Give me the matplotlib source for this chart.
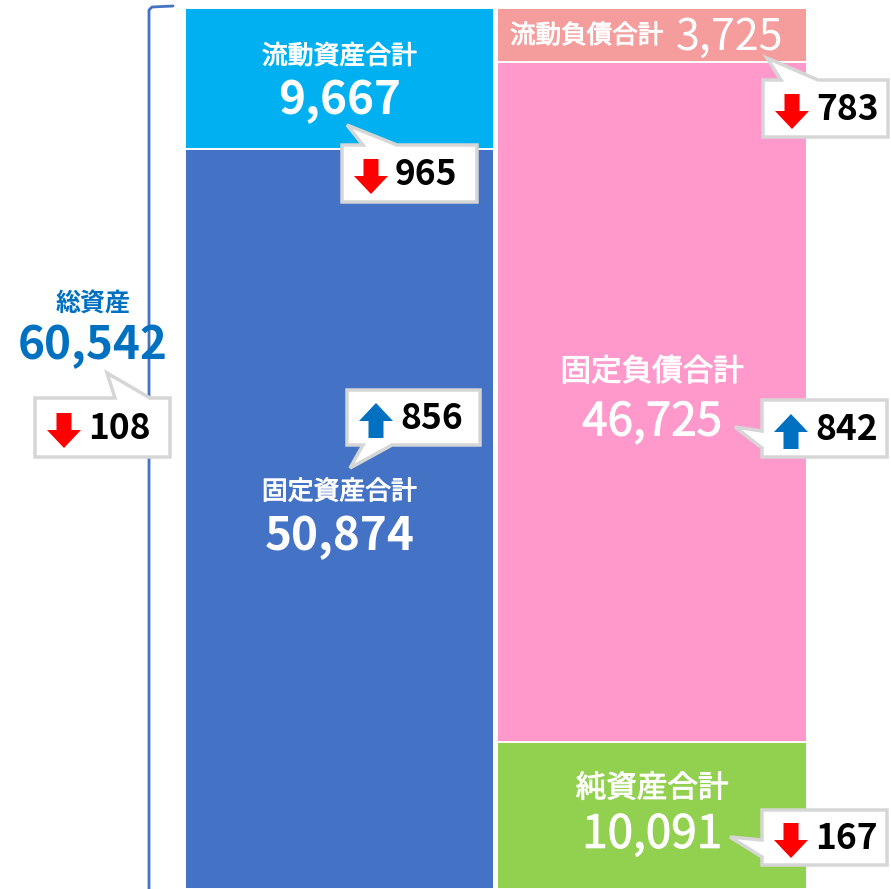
import matplotlib
matplotlib.use("Agg")
import matplotlib.pyplot as plt
import matplotlib.patheffects as pe
from matplotlib.patches import Polygon

plt.rcParams["font.family"] = ["Noto Sans CJK JP", "DejaVu Sans"]

W, H = 891, 889

# balance sheet (stacked from the bottom)
asset_labels = ["固定資産合計", "流動資産合計"]
asset_values = [50874, 9667]
liab_labels = ["純資産合計", "固定負債合計", "流動負債合計"]
liab_values = [10091, 46725, 3725]
total_label = "総資産"
total_value = 60542

# change vs previous period, one per callout
change_names = ["総資産", "流動資産合計", "固定資産合計", "流動負債合計", "固定負債合計", "純資産合計"]
change_values = [-108, -965, 856, -783, 842, -167]

# colours
C_CUR_ASSET = "#00B0F0"
C_FIX_ASSET = "#4472C4"
C_CUR_LIAB = "#F59D9D"
C_FIX_LIAB = "#FF99CC"
C_EQUITY = "#92D050"
C_TOTAL = "#0070C0"
C_UP = "#0070C0"
C_DOWN = "#FF0000"
C_BOX = "#D6D6D6"

# fake a medium weight with a thin stroke in the text colour
MEDIUM = [pe.withStroke(linewidth=0.7, foreground="white")]

fig = plt.figure(figsize=(W / 100, H / 100), dpi=100)
fig.patch.set_facecolor("white")

# --- bars (data axes) ---
ax = fig.add_axes([0, 0, 1, 1])
unit = 312.5          # px per category step
left_c = 339.5        # px of first bar centre
ax.set_xlim(-left_c / unit, (W - left_c) / unit)
ax.set_ylim(0, total_value * H / 881)
ax.axis("off")

asset_colors = [C_FIX_ASSET, C_CUR_ASSET]
liab_colors = [C_EQUITY, C_FIX_LIAB, C_CUR_LIAB]


def stack(xpos, values, colors):
    bottom = 0
    spans = []
    for v, c in zip(values, colors):
        ax.bar(xpos, v, bottom=bottom, width=0.99, color=c,
               edgecolor="white", linewidth=1.4, zorder=2)
        spans.append((bottom, v))
        bottom += v
    return spans


a_spans = stack(0, asset_values, asset_colors)
l_spans = stack(1, liab_values, liab_colors)


def seg_label(xpos, span, name, value, name_size, num_weight, name_dy, num_dy):
    mid = span[0] + span[1] / 2
    ax.annotate(name, (xpos, mid), xytext=(0, -name_dy), textcoords="offset pixels",
                ha="center", va="center", color="white", fontsize=name_size,
                fontweight="normal", path_effects=MEDIUM, zorder=5)
    effects = MEDIUM if num_weight == "medium" else None
    ax.annotate(f"{value:,}", (xpos, mid), xytext=(0, -num_dy), textcoords="offset pixels",
                ha="center", va="center", color="white", fontsize=33,
                fontweight="bold" if num_weight == "bold" else "normal",
                path_effects=effects, zorder=5)


seg_label(0, a_spans[0], asset_labels[0], asset_values[0], 18.6, "bold", -27, 18)
seg_label(0, a_spans[1], asset_labels[1], asset_values[1], 18.6, "bold", -22, 23)
seg_label(1, l_spans[0], liab_labels[0], liab_values[0], 22, "medium", -27, 19)
seg_label(1, l_spans[1], liab_labels[1], liab_values[1], 22, "medium", -30, 20)

# current liabilities: single line, name + value
mid = l_spans[2][0] + l_spans[2][1] / 2
ax.annotate(liab_labels[2], (1, mid), xytext=(11, -1), textcoords="offset pixels",
            ha="right", va="center", color="white", fontsize=18.4,
            fontweight="normal", path_effects=MEDIUM, zorder=5)
ax.annotate(f"{liab_values[2]:,}", (1, mid), xytext=(24, -3), textcoords="offset pixels",
            ha="left", va="center", color="white", fontsize=31,
            fontweight="normal", zorder=5)

# --- overlay in pixel space for bracket and callouts ---
ov = fig.add_axes([0, 0, 1, 1])
ov.set_xlim(0, W)
ov.set_ylim(H, 0)
ov.axis("off")
ov.patch.set_alpha(0)

# bracket for total assets
ov.plot([173, 152, 149, 149], [6, 7, 10, H + 5], color=C_FIX_ASSET, lw=2.0,
        solid_capstyle="round", solid_joinstyle="round", zorder=3)
ov.text(93, 305, total_label, ha="center", va="center", color=C_TOTAL,
        fontsize=18, fontweight="bold", zorder=5)
ov.text(93, 346, f"{total_value:,}", ha="center", va="center", color=C_TOTAL,
        fontsize=33, fontweight="bold", zorder=5)

# callout layout: box (x0, y0, x1, y1), pointer side, base (a, b), tip (x, y)
callouts = [
    ((35, 398, 170, 457), "top", (115, 150), (107, 373)),
    ((342, 145, 477, 202), "top", (363, 397), (347, 125)),
    ((347, 390, 480, 445), "bottom", (363, 392), (350, 468)),
    ((763, 80, 888, 137), "top", (781, 818), (767, 58)),
    ((762, 400, 887, 457), "left", (431, 448), (735, 427)),
    ((762, 810, 887, 865), "left", (840, 857), (730, 837)),
]


def bubble(box, side, base, tip):
    x0, y0, x1, y1 = box
    a, b = base
    if side == "top":
        pts = [(x0, y0), (a, y0), tip, (b, y0), (x1, y0), (x1, y1), (x0, y1)]
    elif side == "bottom":
        pts = [(x0, y0), (x1, y0), (x1, y1), (b, y1), tip, (a, y1), (x0, y1)]
    else:
        pts = [(x0, y0), (x1, y0), (x1, y1), (x0, y1), (x0, b), tip, (x0, a)]
    ov.add_patch(Polygon(pts, closed=True, facecolor="white", edgecolor=C_BOX,
                         lw=2.5, joinstyle="miter", zorder=6))


def arrow_icon(cx, cy, up):
    hw, sw, h, hh = 17, 7.5, 35, 18
    top, bot = cy - h / 2, cy + h / 2
    if up:
        pts = [(cx, top), (cx + hw, top + hh), (cx + sw, top + hh), (cx + sw, bot),
               (cx - sw, bot), (cx - sw, top + hh), (cx - hw, top + hh)]
        col = C_UP
    else:
        pts = [(cx - sw, top), (cx + sw, top), (cx + sw, bot - hh), (cx + hw, bot - hh),
               (cx, bot), (cx - hw, bot - hh), (cx - sw, bot - hh)]
        col = C_DOWN
    ov.add_patch(Polygon(pts, closed=True, facecolor=col, edgecolor="none", zorder=7))


for (box, side, base, tip), val in zip(callouts, change_values):
    bubble(box, side, base, tip)
    cy = (box[1] + box[3]) / 2
    arrow_icon(box[0] + 29, cy + 3, val > 0)
    ov.text(box[0] + 53, cy + 1, f"{abs(val):,}", ha="left", va="center",
            color="black", fontsize=25.5, fontweight="bold", zorder=8)

fig.savefig("out.png", dpi=100, facecolor="white")
